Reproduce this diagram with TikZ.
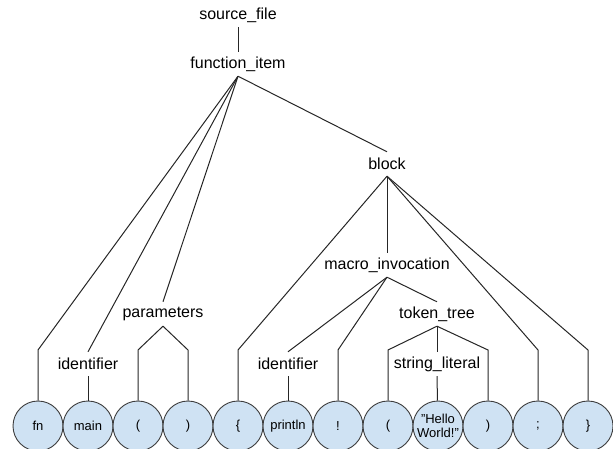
\documentclass[tikz,border=0pt]{standalone}
\usepackage{fontspec}
\setmainfont{Liberation Sans}
\usepackage{tikz}
\usetikzlibrary{positioning,calc}
\definecolor{leafblue}{RGB}{207,226,243}
\definecolor{leafline}{RGB}{60,60,60}

\tikzset{
  rule/.style={font=\fontsize{16}{18}\selectfont, inner sep=0pt, minimum height=24pt},
  leaf/.style={circle, draw=leafline, fill=leafblue, line width=0.9pt, minimum size=50pt,
    inner sep=0pt, align=center, font=\fontsize{13}{14}\selectfont},
  edge/.style={line width=1pt, black!85}
}

\begin{document}
\begin{tikzpicture}[x=1pt, y=-1pt]
  \useasboundingbox (0,0) rectangle (613,449);
  % inner nodes
  \node[rule] (src) at (238,15) {source\_file};
  \node[rule] (fitem) at (238,64) {function\_item};
  \node[rule] (block) at (387,164) {block};
  \node[rule] (macro) at (387,265) {macro\_invocation};
  \node[rule] (params) at (163,314) {parameters};
  \node[rule] (ttree) at (437,314) {token\_tree};
  \node[rule] (ident1) at (88,364) {identifier};
  \node[rule] (ident2) at (288,364) {identifier};
  \node[rule] (strlit) at (437,364) {string\_literal};
  \coordinate (knee) at (0,350);
  % leaves
  \node[leaf] (fn) at (38,426) {fn};
  \node[leaf] (main) at (88,426) {main};
  \node[leaf] (lpar1) at (138,426) {(};
  \node[leaf] (rpar1) at (188,426) {)};
  \node[leaf] (lbrace) at (238,426) {\{};
  \node[leaf] (println) at (288,426) {println};
  \node[leaf] (bang) at (338,426) {!};
  \node[leaf] (lpar2) at (388,426) {(};
  \node[leaf] (hello) at (438,426) {\char34 Hello\\World!\char34};
  \node[leaf] (rpar2) at (488,426) {)};
  \node[leaf] (semi) at (538,426) {;};
  \node[leaf] (rbrace) at (588,426) {\}};
  % edges
  \begin{scope}[edge]
    \draw (src.south) -- (fitem.north);
    \draw (fitem.south) -- (fn |- knee) -- (fn);
    \draw (fitem.south) -- (ident1.north);
    \draw (ident1.south) -- (main);
    \draw (fitem.south) -- (params.north);
    \draw (params.south) -- (lpar1 |- knee) -- (lpar1);
    \draw (params.south) -- (rpar1 |- knee) -- (rpar1);
    \draw (fitem.south) -- (block.north);
    \draw (block.south) -- (lbrace |- knee) -- (lbrace);
    \draw (block.south) -- (macro.north);
    \draw (block.south) -- (semi |- knee) -- (semi);
    \draw (block.south) -- (rbrace |- knee) -- (rbrace);
    \draw (macro.south) -- (ident2.north);
    \draw (ident2.south) -- (println);
    \draw (macro.south) -- (bang |- knee) -- (bang);
    \draw (macro.south) -- (ttree.north);
    \draw (ttree.south) -- (lpar2 |- knee) -- (lpar2);
    \draw (ttree.south) -- (strlit.north);
    \draw (strlit.south) -- (hello);
    \draw (ttree.south) -- (rpar2 |- knee) -- (rpar2);
  \end{scope}
\end{tikzpicture}
\end{document}
